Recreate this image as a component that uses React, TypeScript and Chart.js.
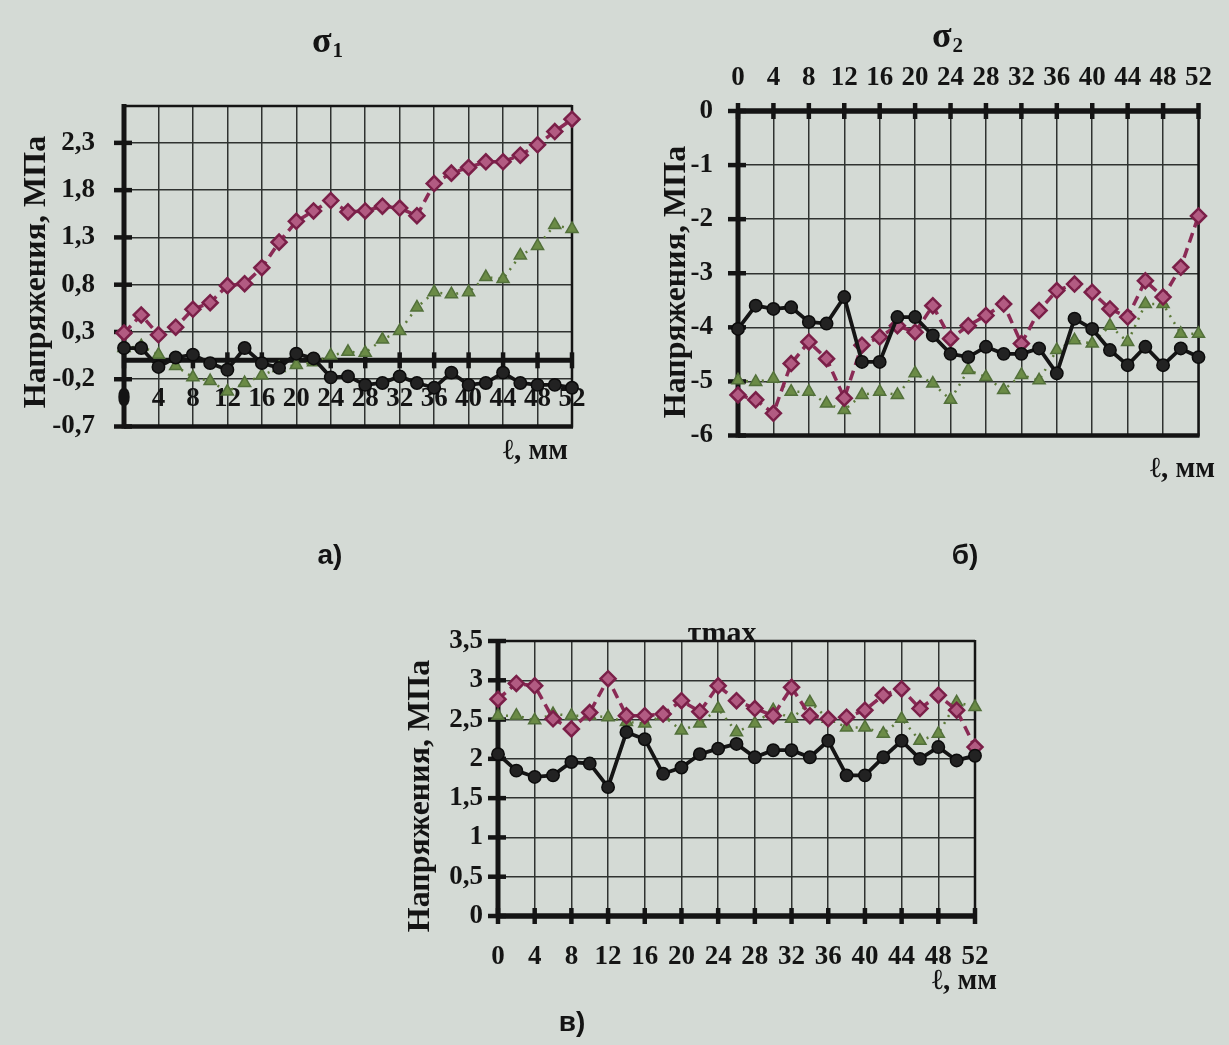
import React, { useEffect, useRef } from "react";
import { Chart, registerables } from "chart.js";
Chart.register(...registerables);

const PAGE_W = 1229;
const PAGE_H = 1045;

// distance along the sample, mm
const xMm = [0, 2, 4, 6, 8, 10, 12, 14, 16, 18, 20, 22, 24, 26, 28, 30, 32, 34, 36, 38, 40, 42, 44, 46, 48, 50, 52];
const xTicks = [0, 4, 8, 12, 16, 20, 24, 28, 32, 36, 40, 44, 48, 52];

// а) σ1
const aCircle = [0.13, 0.13, -0.07, 0.03, 0.06, -0.03, -0.1, 0.13, -0.03, -0.08, 0.07, 0.02, -0.18, -0.17, -0.26, -0.24, -0.17, -0.24, -0.29, -0.13, -0.26, -0.24, -0.13, -0.24, -0.26, -0.26, -0.29];
const aDiamond = [0.29, 0.48, 0.27, 0.35, 0.54, 0.61, 0.79, 0.81, 0.98, 1.25, 1.47, 1.58, 1.69, 1.57, 1.58, 1.63, 1.61, 1.53, 1.87, 1.98, 2.04, 2.1, 2.1, 2.17, 2.28, 2.42, 2.55];
const aTriangle = [0.13, 0.15, 0.06, -0.06, -0.18, -0.22, -0.33, -0.24, -0.16, -0.08, -0.05, -0.02, 0.05, 0.09, 0.08, 0.22, 0.31, 0.56, 0.72, 0.7, 0.72, 0.88, 0.86, 1.11, 1.21, 1.43, 1.39];
const aYTicks = [-0.7, -0.2, 0.3, 0.8, 1.3, 1.8, 2.3];

// б) σ2
const bCircle = [-4.03, -3.6, -3.66, -3.63, -3.9, -3.93, -3.44, -4.64, -4.64, -3.81, -3.81, -4.15, -4.49, -4.55, -4.36, -4.49, -4.49, -4.39, -4.85, -3.84, -4.03, -4.42, -4.7, -4.36, -4.7, -4.39, -4.55];
const bDiamond = [-5.25, -5.34, -5.59, -4.67, -4.27, -4.58, -5.31, -4.33, -4.18, -3.97, -4.09, -3.6, -4.21, -3.97, -3.78, -3.57, -4.3, -3.69, -3.32, -3.2, -3.35, -3.66, -3.81, -3.14, -3.44, -2.89, -1.94];
const bTriangle = [-4.98, -5.01, -4.95, -5.19, -5.19, -5.41, -5.53, -5.25, -5.19, -5.25, -4.85, -5.04, -5.34, -4.79, -4.92, -5.16, -4.88, -4.98, -4.42, -4.24, -4.3, -3.97, -4.27, -3.57, -3.57, -4.12, -4.12];
const bYTicks = [-6, -5, -4, -3, -2, -1, 0];

// в) τmax
const cCircle = [2.06, 1.85, 1.77, 1.79, 1.96, 1.94, 1.64, 2.34, 2.25, 1.81, 1.89, 2.06, 2.13, 2.19, 2.02, 2.11, 2.11, 2.02, 2.23, 1.79, 1.79, 2.02, 2.23, 2.0, 2.15, 1.98, 2.04];
const cDiamond = [2.76, 2.96, 2.93, 2.51, 2.38, 2.59, 3.02, 2.55, 2.55, 2.57, 2.74, 2.6, 2.93, 2.74, 2.64, 2.55, 2.91, 2.55, 2.51, 2.53, 2.62, 2.81, 2.89, 2.64, 2.81, 2.62, 2.15];
const cTriangle = [2.55, 2.55, 2.49, 2.57, 2.55, 2.55, 2.53, 2.47, 2.45, 2.55, 2.36, 2.45, 2.64, 2.34, 2.45, 2.62, 2.51, 2.72, 2.51, 2.4, 2.4, 2.32, 2.51, 2.23, 2.32, 2.72, 2.66];
const cYTicks = [0, 0.5, 1, 1.5, 2, 2.5, 3, 3.5];

const SERIF = "'Liberation Serif', 'DejaVu Serif', serif";
const INK = "#141414";
const GRID = "#2f3230";
const BG = "#d4dad5";

const STYLES: Record<string, any> = {
  circle: {
    borderColor: "#151515",
    borderWidth: 3.8,
    pointStyle: "circle",
    pointRadius: 6.2,
    pointBackgroundColor: "#222222",
    pointBorderColor: "#0c0c0c",
    pointBorderWidth: 1.5,
  },
  diamond: {
    borderColor: "#8a2a55",
    borderWidth: 3.5,
    borderDash: [10, 6],
    pointStyle: "rectRot",
    pointRadius: 7.5,
    pointBackgroundColor: "#b25b82",
    pointBorderColor: "#7a1f48",
    pointBorderWidth: 2.5,
  },
  triangle: {
    borderColor: "#5d7a3a",
    borderWidth: 2.5,
    borderDash: [2, 6],
    pointStyle: "triangle",
    pointRadius: 7,
    pointBackgroundColor: "#6b8b46",
    pointBorderColor: "#52703a",
    pointBorderWidth: 1.5,
  },
};

function series(vals: number[], kind: string) {
  return {
    data: xMm.map((x, i) => ({ x, y: vals[i] })),
    tension: 0,
    clip: false,
    ...STYLES[kind],
  };
}

const fmt = (v: number) => String(Math.round(v * 10) / 10).replace(".", ",");

type TextItem = {
  text: string;
  x: number;
  y: number;
  font: string;
  align?: CanvasTextAlign;
  rotate?: number;
  sub?: string;
  subFont?: string;
  subDy?: number;
};

function framePlugin(spec: any) {
  return {
    id: "frame" + spec.key,
    beforeDatasetsDraw(chart: any) {
      const { ctx, chartArea: ca, scales } = chart;
      const ys = scales.y;
      const xs = scales.x;
      ctx.save();
      ctx.strokeStyle = INK;
      ctx.lineCap = "butt";
      const line = (x1: number, y1: number, x2: number, y2: number, w: number) => {
        ctx.lineWidth = w;
        ctx.beginPath();
        ctx.moveTo(x1, y1);
        ctx.lineTo(x2, y2);
        ctx.stroke();
      };
      line(ca.left, ca.top, ca.right, ca.top, spec.topW);
      line(ca.right, ca.top - 1, ca.right, ca.bottom + 1, spec.rightW);
      line(ca.left, ca.bottom, ca.right + 1, ca.bottom, spec.bottomW);
      line(ca.left, ca.top - 2, ca.left, ca.bottom + 2, 5);
      const axisY = ys.getPixelForValue(spec.xAxisAt);
      line(ca.left - 2, axisY, ca.right + 1.5, axisY, 5);
      ys.ticks.forEach((t: any) => {
        const py = ys.getPixelForValue(t.value);
        line(ca.left - 10, py, ca.left + 8, py, 4.5);
      });
      xs.ticks.forEach((t: any) => {
        const px = xs.getPixelForValue(t.value);
        line(px, axisY - 8, px, axisY + 8, 4.5);
      });
      ctx.restore();
    },
  };
}

function textPlugin(key: string, items: TextItem[]) {
  return {
    id: "texts" + key,
    afterDraw(chart: any) {
      const ctx = chart.ctx;
      for (const it of items) {
        ctx.save();
        ctx.translate(it.x, it.y);
        if (it.rotate) ctx.rotate(it.rotate);
        ctx.fillStyle = INK;
        ctx.textBaseline = "middle";
        ctx.font = it.font;
        if (it.sub) {
          const w1 = ctx.measureText(it.text).width;
          ctx.font = it.subFont || it.font;
          const w2 = ctx.measureText(it.sub).width;
          const start = -(w1 + w2) / 2;
          ctx.textAlign = "left";
          ctx.font = it.font;
          ctx.fillText(it.text, start, 0);
          ctx.font = it.subFont || it.font;
          ctx.fillText(it.sub, start + w1 + 1, it.subDy || 0);
        } else {
          ctx.textAlign = it.align || "center";
          ctx.fillText(it.text, 0, 0);
        }
        ctx.restore();
      }
    },
  };
}

function buildChart(canvas: HTMLCanvasElement, spec: any) {
  const tickFont = { family: SERIF, weight: "bold" as const, size: 27 };
  return new Chart(canvas, {
    type: "line",
    data: {
      datasets: [
        series(spec.circle, "circle"),
        series(spec.diamond, "diamond"),
        series(spec.triangle, "triangle"),
      ] as any,
    },
    options: {
      responsive: false,
      animation: false,
      layout: { padding: spec.padding },
      plugins: {
        legend: { display: false },
        tooltip: { enabled: false },
        title: { display: false },
      },
      scales: {
        x: {
          type: "linear",
          min: 0,
          max: 52,
          position: spec.xPos,
          afterBuildTicks: (s: any) => {
            s.ticks = xTicks.map((v) => ({ value: v }));
          },
          afterFit: (s: any) => {
            if (spec.xH) s.height = spec.xH;
          },
          grid: { color: GRID, lineWidth: 1.5, drawTicks: false },
          border: { display: false },
          ticks: {
            autoSkip: false,
            maxRotation: 0,
            minRotation: 0,
            padding: spec.xPad,
            color: INK,
            font: tickFont,
            callback: (v: any) => String(v),
          },
        },
        y: {
          type: "linear",
          min: spec.yMin,
          max: spec.yMax,
          position: "left",
          afterBuildTicks: (s: any) => {
            s.ticks = spec.yTicks.map((v: number) => ({ value: v }));
          },
          afterFit: (s: any) => {
            s.width = spec.yW;
          },
          grid: { color: GRID, lineWidth: 1.5, drawTicks: false },
          border: { display: false },
          ticks: {
            padding: spec.yPad,
            color: INK,
            font: tickFont,
            callback: (v: any) => fmt(Number(v)),
          },
        },
      },
    } as any,
    plugins: [framePlugin(spec), textPlugin(spec.key, spec.texts)],
  });
}

const Y_TITLE = "Напряжения, МПа";
const X_TITLE = "ℓ, мм";
const TITLE_FONT = `bold 32px ${SERIF}`;
const XT_FONT = `bold 29px ${SERIF}`;

const SPECS = [
  {
    key: "a",
    circle: aCircle,
    diamond: aDiamond,
    triangle: aTriangle,
    yTicks: aYTicks,
    yMin: -0.7,
    yMax: 2.69,
    xPos: { y: 0 },
    xAxisAt: 0,
    xPad: 23,
    yW: 124,
    yPad: 29,
    padding: { left: 0, top: 106, right: PAGE_W - 572, bottom: PAGE_H - 426.5 },
    topW: 2.5,
    rightW: 2.5,
    bottomW: 4.5,
    texts: [
      { text: Y_TITLE, x: 37, y: 272, font: TITLE_FONT, rotate: -Math.PI / 2 },
      { text: "σ", sub: "1", x: 327, y: 43, font: `bold 36px ${SERIF}`, subFont: `bold 21px ${SERIF}`, subDy: 9 },
      { text: X_TITLE, x: 568, y: 452, font: XT_FONT, align: "right" as CanvasTextAlign },
    ],
  },
  {
    key: "b",
    circle: bCircle,
    diamond: bDiamond,
    triangle: bTriangle,
    yTicks: bYTicks,
    yMin: -6,
    yMax: 0,
    xPos: "top",
    xH: 60,
    xAxisAt: 0,
    xPad: 17,
    yW: 100,
    yPad: 25,
    padding: { left: 638, top: 51, right: PAGE_W - 1212, bottom: PAGE_H - 435.5 },
    topW: 5,
    rightW: 2.5,
    bottomW: 4.5,
    texts: [
      { text: Y_TITLE, x: 677, y: 282, font: TITLE_FONT, rotate: -Math.PI / 2 },
      { text: "σ", sub: "2", x: 947, y: 38, font: `bold 36px ${SERIF}`, subFont: `bold 21px ${SERIF}`, subDy: 9 },
      { text: X_TITLE, x: 1215, y: 470, font: XT_FONT, align: "right" as CanvasTextAlign },
    ],
  },
  {
    key: "c",
    circle: cCircle,
    diamond: cDiamond,
    triangle: cTriangle,
    yTicks: cYTicks,
    yMin: 0,
    yMax: 3.5,
    xPos: "bottom",
    xH: 60,
    xAxisAt: 0,
    xPad: 25,
    yW: 100,
    yPad: 15,
    padding: { left: 398, top: 641, right: PAGE_W - 975, bottom: PAGE_H - 916 - 60 },
    topW: 2.5,
    rightW: 2.5,
    bottomW: 5,
    texts: [
      { text: Y_TITLE, x: 421, y: 796, font: TITLE_FONT, rotate: -Math.PI / 2 },
      { text: "τmax", x: 722, y: 634, font: `bold 30px ${SERIF}` },
      { text: X_TITLE, x: 997, y: 982, font: XT_FONT, align: "right" as CanvasTextAlign },
    ],
  },
];

function Panel({ spec }: { spec: any }) {
  const ref = useRef<HTMLCanvasElement | null>(null);
  useEffect(() => {
    if (!ref.current) return;
    const chart = buildChart(ref.current, spec);
    return () => chart.destroy();
  }, [spec]);
  return (
    <canvas
      ref={ref}
      width={PAGE_W}
      height={PAGE_H}
      style={{ position: "absolute", left: 0, top: 0, width: PAGE_W, height: PAGE_H }}
    />
  );
}

const LETTERS = [
  { text: "а)", x: 330, y: 555 },
  { text: "б)", x: 965, y: 555 },
  { text: "в)", x: 572, y: 1022 },
];

export default function App() {
  return (
    <div
      style={{
        position: "fixed",
        left: 0,
        top: 0,
        width: PAGE_W,
        height: PAGE_H,
        overflow: "hidden",
        background: BG,
      }}
    >
      {SPECS.map((s) => (
        <Panel key={s.key} spec={s} />
      ))}
      {LETTERS.map((l) => (
        <span
          key={l.text}
          style={{
            position: "absolute",
            left: l.x,
            top: l.y,
            transform: "translate(-50%, -50%)",
            font: "bold 28px 'Liberation Sans', Arial, sans-serif",
            color: INK,
            whiteSpace: "nowrap",
          }}
        >
          {l.text}
        </span>
      ))}
    </div>
  );
}
